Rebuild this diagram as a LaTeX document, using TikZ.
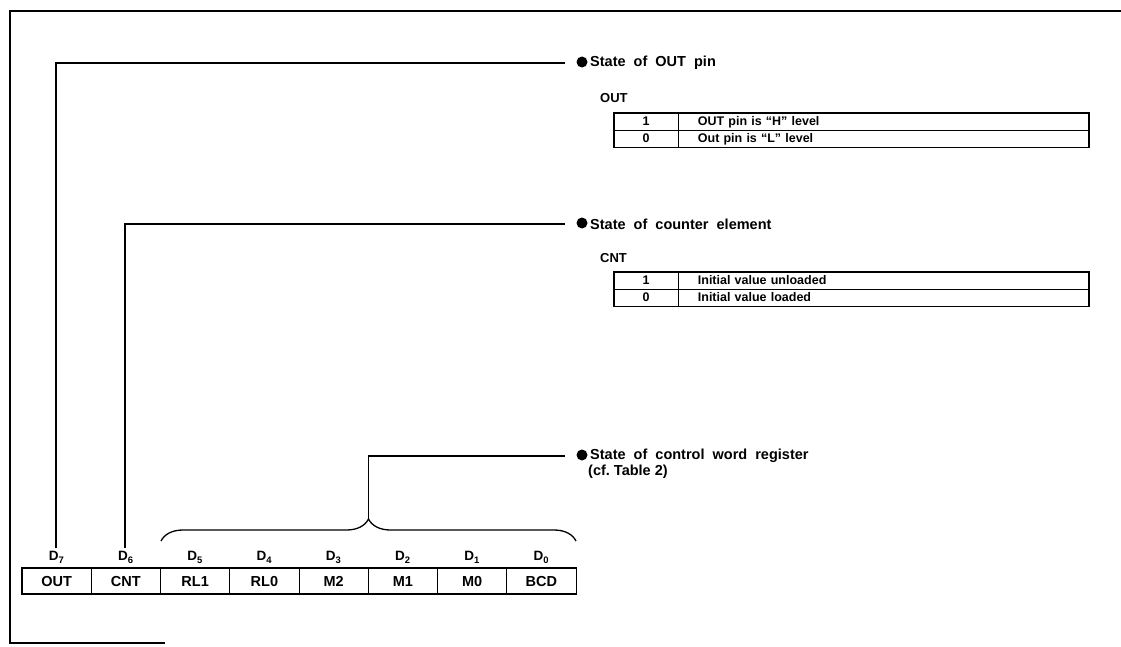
\documentclass[tikz,border=0pt]{standalone}
\usepackage{fontspec}
\setmainfont{Liberation Sans}
\usetikzlibrary{decorations.pathreplacing}
\tikzset{
  frameline/.style={line width=2.6pt},
  leader/.style={line width=1.3pt},
  regcell/.style={draw, line width=0.9pt, minimum width=69.25pt, minimum height=25pt, inner sep=0pt, text height=10.4pt, text depth=0pt, font=\bfseries\fontsize{14.5}{16}\selectfont},
  dlabel/.style={inner sep=0pt, text height=9.7pt, text depth=2pt, font=\bfseries\fontsize{13.5}{15}\selectfont},
  keycell/.style={draw, line width=0.9pt, minimum height=17pt, inner sep=0pt, text height=9pt, text depth=0.5pt, font=\bfseries\fontsize{12.5}{13}\selectfont},
  valcell/.style={keycell, text width=372pt, inner xsep=19pt, align=left, anchor=west},
  outerbox/.style={line width=1.8pt},
  bulletdot/.style={circle, fill, minimum size=11pt, inner sep=0pt},
  title/.style={anchor=west, inner sep=0pt, font=\bfseries\fontsize{14.5}{15.5}\selectfont, align=left},
  thead/.style={anchor=west, inner sep=0pt, font=\bfseries\fontsize{13}{14}\selectfont}
}
\begin{document}
\begin{tikzpicture}[x=1pt,y=-1pt]
\useasboundingbox (0,0) rectangle (1121,647);
% page frame
\draw[frameline] (165,643) -- (10,643) -- (10,11) -- (1121,11);

% register
\foreach \n/\t [count=\i from 0] in {7/OUT,6/CNT,5/RL1,4/RL0,3/M2,2/M1,1/M0,0/BCD} {
  \node[regcell] (r\n) at ({22+69.25*(\i+0.5)},581) {\t};
  \node[dlabel] (d\n) at ({22+69.25*(\i+0.5)},557) {D\textsubscript{\n}};
}
\draw[outerbox] (r7.north west) rectangle (r0.south east);

% titles
\node[bulletdot] (b1) at (582,62) {};
\node[title] (t1) at (590,63) {State\ \ of\ \ OUT\ \ pin};
\node[bulletdot] (b2) at (582,223) {};
\node[title] (t2) at (590,224) {State\ \ of\ \ counter\ \ element};
\node[bulletdot] (b3) at (582,455) {};
\node[title] (t3) at (590,456) {State\ \ of\ \ control\ \ word\ \ register};
\node[title] (t3b) at (588,472) {(cf.\ Table 2)};

% leaders
\coordinate (e1) at (565,63);
\coordinate (e2) at (565,224);
\coordinate (e3) at (565,456);
\coordinate (s7) at (56,548);
\coordinate (s6) at (125,548);
\draw[leader] (s7) |- (e1);
\draw[leader] (s6) |- (e2);
\coordinate (brL) at (161,541);
\coordinate (brR) at (576,541);
\draw[leader, decorate, decoration={brace, amplitude=22pt, aspect=0.5}] (brL) -- (brR);
\coordinate (bt) at (368.5,519);
\draw[leader] (bt) |- (e3);

% table OUT
\node[thead] (h1) at (600,98) {OUT};
\node[keycell, minimum width=64pt] (k11) at (646,121.5) {1};
\node[valcell] (v11) at (k11.east) {OUT pin is ``H'' level};
\node[keycell, minimum width=64pt] (k10) at (646,138.5) {0};
\node[valcell] (v10) at (k10.east) {Out pin is ``L'' level};
\draw[outerbox] (k11.north west) rectangle (v10.south east);

% table CNT
\node[thead] (h2) at (600,258) {CNT};
\node[keycell, minimum width=64pt] (k21) at (646,280.5) {1};
\node[valcell] (v21) at (k21.east) {Initial value unloaded};
\node[keycell, minimum width=64pt] (k20) at (646,297.5) {0};
\node[valcell] (v20) at (k20.east) {Initial value loaded};
\draw[outerbox] (k21.north west) rectangle (v20.south east);
\end{tikzpicture}
\end{document}
